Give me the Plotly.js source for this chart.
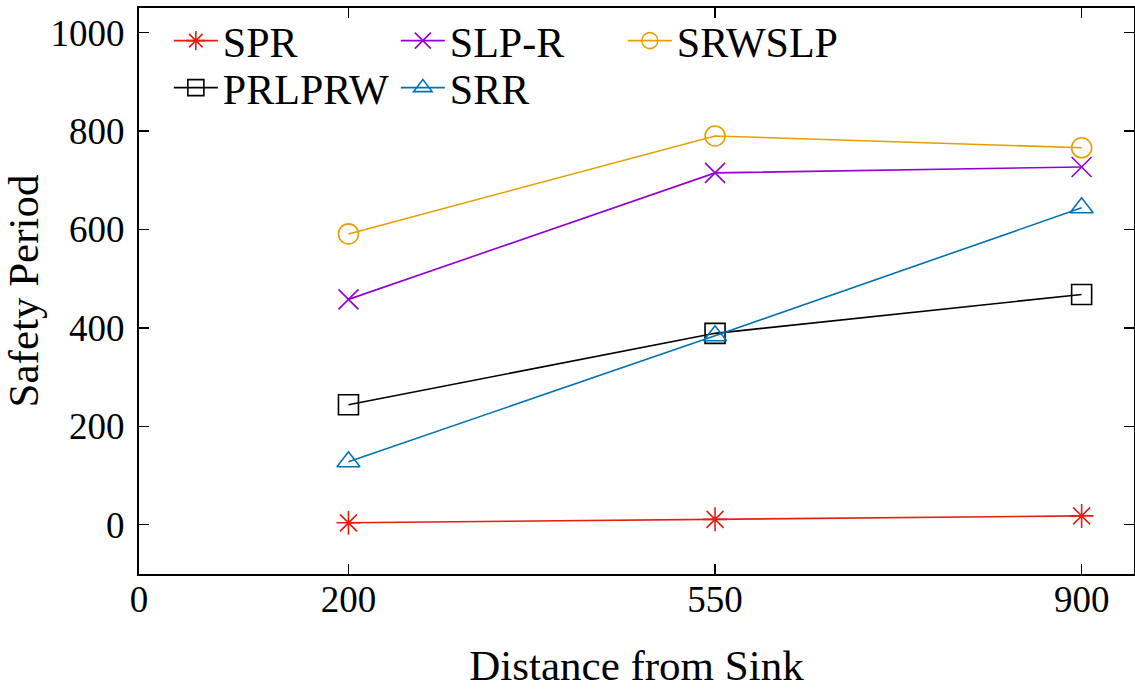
<!DOCTYPE html>
<html>
<head>
<meta charset="utf-8">
<script src="https://cdn.plot.ly/plotly-3.0.1.min.js"></script>
<style>html,body{margin:0;padding:0;background:#fff;}#chart{width:1135px;height:690px;}</style>
</head>
<body>
<div id="chart"></div>
<script>
const distances = [200, 550, 900];
const seriesNames = ["SPR", "SLP-R", "SRWSLP", "PRLPRW", "SRR"];
const sprValues = [4, 11, 18];
const slpRValues = [458, 715, 727];
const srwslpValues = [591, 790, 766];
const prlprwValues = [244, 389, 468];
const srrValues = [128, 384, 644];
const xTickVals = [0, 200, 550, 900];
const xTickText = ["0", "200", "550", "900"];
const yTickVals = [0, 200, 400, 600, 800, 1000];

const FONT = "'Liberation Serif', 'Times New Roman', serif";

function mk(name, y, color, symbol, legend) {
  return {
    x: distances, y: y, name: name, type: "scatter", mode: "lines+markers",
    line: {color: color, width: 1.6},
    marker: {symbol: symbol, size: 20, color: color, line: {color: color, width: 1.6}},
    legend: legend
  };
}

const data = [
  mk(seriesNames[0], sprValues, "#e51e10", "asterisk-open", "legend"),
  mk(seriesNames[1], slpRValues, "#9400d3", "x-thin-open", "legend"),
  mk(seriesNames[2], srwslpValues, "#e69f00", "circle-open", "legend"),
  mk(seriesNames[3], prlprwValues, "#000000", "square-open", "legend2"),
  mk(seriesNames[4], srrValues, "#0072b2", "triangle-up-open", "legend2")
];
data[2].legendwidth = 220;
data[4].legendwidth = 220;

const legendCommon = {
  orientation: "h", xref: "paper", yref: "paper", xanchor: "left", yanchor: "middle",
  font: {family: FONT, size: 42, color: "#000"},
  bgcolor: "rgba(0,0,0,0)", borderwidth: 0,
  itemwidth: 44, entrywidth: 168, entrywidthmode: "pixels",
  traceorder: "normal"
};

const layout = {
  width: 1135, height: 690,
  margin: {l: 139, r: 1, t: 8, b: 116},
  paper_bgcolor: "#fff", plot_bgcolor: "#fff",
  font: {family: FONT, color: "#000"},
  showlegend: true,
  xaxis: {
    range: [0, 950], tickvals: xTickVals, ticktext: xTickText,
    ticks: "inside", ticklen: 10, tickwidth: 1.2, tickcolor: "#000",
    showline: true, linecolor: "#000", linewidth: 2, mirror: "ticks",
    showgrid: false, zeroline: false,
    tickfont: {family: FONT, size: 37, color: "#000"},
    ticklabelstandoff: -8,
    title: {text: "Distance from Sink", font: {family: FONT, size: 43, color: "#000"}, standoff: 30}
  },
  yaxis: {
    range: [-100, 1050], tickvals: yTickVals,
    ticks: "inside", ticklen: 10, tickwidth: 1.2, tickcolor: "#000",
    showline: true, linecolor: "#000", linewidth: 2, mirror: "ticks",
    showgrid: false, zeroline: false,
    tickfont: {family: FONT, size: 37, color: "#000"},
    ticklabelstandoff: 5,
    title: {text: "Safety Period", font: {family: FONT, size: 43, color: "#000"}, standoff: 0}
  },
  legend: Object.assign({}, legendCommon, {x: 0.03, y: 0.942}),
  legend2: Object.assign({}, legendCommon, {x: 0.03, y: 0.859})
};

Plotly.newPlot("chart", data, layout, {staticPlot: true, displayModeBar: false});
</script>
</body>
</html>
